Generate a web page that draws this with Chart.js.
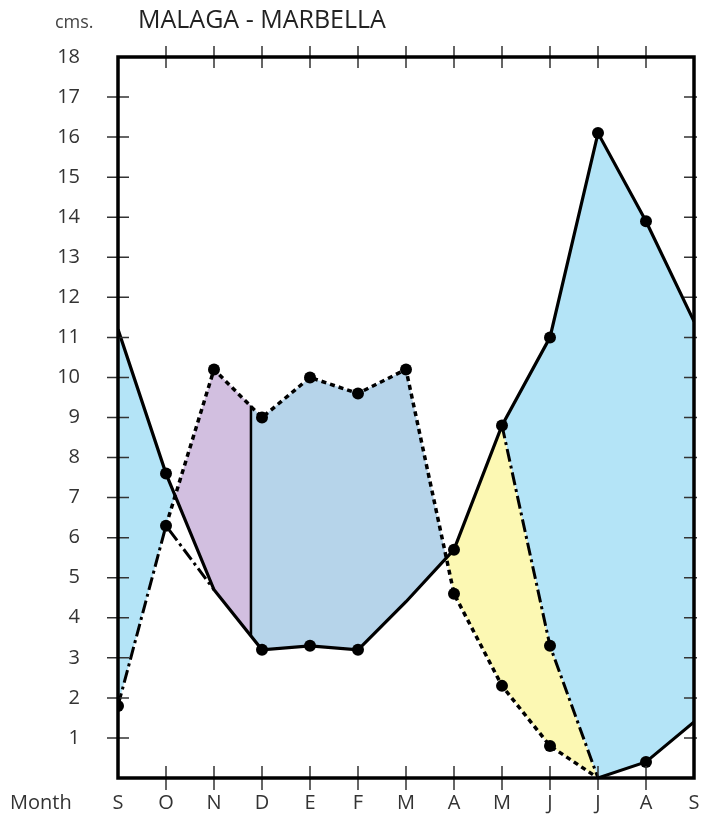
<!DOCTYPE html>
<html lang="en">
<head>
    <meta charset="UTF-8">
    <title>Malaga - Marbella</title>
    <script src="https://cdn.jsdelivr.net/npm/chart.js"></script>
    <style>
        body {
            margin: 0;
            padding: 0;
            background: #fff;
        }
        #wrap {
            width: 704px;
            height: 820px;
        }
    </style>
</head>
<body>
    <div id="wrap"><canvas id="balanceChart" width="704" height="820"></canvas></div>

    <script>
        // months from September to September
        const months = ['S', 'O', 'N', 'D', 'E', 'F', 'M', 'A', 'M', 'J', 'J', 'A', 'S'];
        // solid line
        const etp = [11.2, 7.6, 4.7, 3.2, 3.3, 3.2, 4.4, 5.7, 8.8, 11.0, 16.1, 13.9, 11.4];
        // dotted line
        const precip = [1.8, 6.3, 10.2, 9.0, 10.0, 9.6, 10.2, 4.6, 2.3, 0.8, 0.0, 0.4, 1.4];
        // dash-dot line
        const etr = [1.8, 6.3, 4.7, 3.2, 3.3, 3.2, 4.4, 5.7, 8.8, 3.3, 0.0, 0.4, 1.4];
        // vertical divider between the purple and blue areas
        const dividerX = 2.77;
        const dividerTop = 9.3;
        const dividerBottom = 3.55;
        // which points carry a dot
        const etpDots = [1, 3, 4, 5, 7, 8, 9, 10, 11];
        const precipDots = [1, 2, 3, 4, 5, 6, 7, 8, 9];
        const etrDots = [0, 9, 11];

        const yTicks = [1, 2, 3, 4, 5, 6, 7, 8, 9, 10, 11, 12, 13, 14, 15, 16, 17, 18];

        const LIGHT_BLUE = '#b4e4f7';
        const STEEL_BLUE = '#b6d4ea';
        const PURPLE = '#d2bfe0';
        const YELLOW = '#fcf8b3';

        function pts(arr, from, to) {
            const out = [];
            for (let i = from; i <= to; i++) out.push({ x: i, y: arr[i] });
            return out;
        }

        function dotRadius(list) {
            return ctx => list.includes(ctx.dataIndex) ? 6 : 0;
        }

        const DOTTED = [5, 4];
        const DASH_DOT = [13, 4, 3, 4];

        const fillBase = {
            borderWidth: 0,
            borderColor: 'transparent',
            pointRadius: 0
        };

        const frame = {
            id: 'frame',
            afterDraw(chart) {
                const { ctx, chartArea: a, scales } = chart;
                ctx.save();
                ctx.strokeStyle = '#333';
                ctx.lineWidth = 1.5;
                ctx.beginPath();
                for (let v = 1; v < 18; v++) {
                    const py = scales.y.getPixelForValue(v);
                    ctx.moveTo(a.left - 11, py); ctx.lineTo(a.left + 11, py);
                    ctx.moveTo(a.right - 10, py); ctx.lineTo(a.right + 3, py);
                }
                for (let i = 1; i < months.length - 1; i++) {
                    const px = scales.x.getPixelForValue(i);
                    ctx.moveTo(px, a.top - 11); ctx.lineTo(px, a.top + 11);
                    ctx.moveTo(px, a.bottom - 12); ctx.lineTo(px, a.bottom + 12);
                }
                ctx.stroke();
                ctx.strokeStyle = '#000';
                ctx.lineWidth = 3.5;
                ctx.strokeRect(a.left, a.top, a.right - a.left, a.bottom - a.top);

                ctx.fillStyle = '#222';
                ctx.textBaseline = 'middle';
                ctx.textAlign = 'left';
                ctx.font = '500 25px "Open Sans"';
                ctx.fillText('MALAGA - MARBELLA', 138, 21);
                ctx.fillStyle = '#444';
                ctx.font = '18px "Open Sans"';
                ctx.fillText('cms.', 55, 23);
                ctx.fillStyle = '#333';
                ctx.font = '20px "Open Sans"';
                ctx.fillText('Month', 10, 803);
                ctx.restore();
            }
        };

        new Chart(document.getElementById('balanceChart'), {
            type: 'line',
            data: {
                datasets: [
                    {
                        label: 'ETP',
                        data: pts(etp, 0, 12),
                        borderColor: '#000',
                        borderWidth: 3.2,
                        pointRadius: dotRadius(etpDots),
                        pointBackgroundColor: '#000',
                        pointBorderWidth: 0,
                        fill: false
                    },
                    {
                        label: 'P',
                        data: pts(precip, 0, 12),
                        borderColor: '#000',
                        borderWidth: 3.5,
                        pointRadius: dotRadius(precipDots),
                        pointBackgroundColor: '#000',
                        pointBorderWidth: 0,
                        fill: false,
                        segment: {
                            borderColor: c => (c.p0DataIndex >= 1 && c.p0DataIndex < 10) ? '#000' : 'transparent',
                            borderDash: () => DOTTED
                        }
                    },
                    {
                        label: 'ETR',
                        data: pts(etr, 0, 12),
                        borderColor: '#000',
                        borderWidth: 3,
                        pointRadius: dotRadius(etrDots),
                        pointBackgroundColor: '#000',
                        pointBorderWidth: 0,
                        fill: false,
                        segment: {
                            borderColor: c => (c.p0DataIndex < 2 || c.p0DataIndex >= 8) ? '#000' : 'transparent',
                            borderDash: c => c.p0DataIndex >= 10 ? [] : DASH_DOT
                        }
                    },
                    {
                        label: 'divider',
                        data: [{ x: dividerX, y: dividerTop }, { x: dividerX, y: dividerBottom }],
                        borderColor: '#000',
                        borderWidth: 2.5,
                        pointRadius: 0,
                        fill: false
                    },
                    // plain copy of ETR, used only as a fill boundary
                    Object.assign({
                        label: 'etrBase',
                        data: pts(etr, 0, 12),
                        fill: false
                    }, fillBase),
                    Object.assign({
                        label: 'recharge',
                        data: pts(precip, 0, 2).concat([{ x: dividerX, y: dividerTop }]),
                        fill: { target: 0, above: PURPLE, below: LIGHT_BLUE }
                    }, fillBase),
                    Object.assign({
                        label: 'surplus',
                        data: [{ x: dividerX, y: dividerTop }].concat(pts(precip, 3, 7)),
                        fill: { target: 0, above: STEEL_BLUE, below: YELLOW }
                    }, fillBase),
                    Object.assign({
                        label: 'use',
                        data: pts(precip, 7, 10),
                        fill: { target: 4, above: 'transparent', below: YELLOW }
                    }, fillBase),
                    Object.assign({
                        label: 'deficit',
                        data: pts(etp, 8, 12),
                        fill: { target: 4, above: LIGHT_BLUE, below: 'transparent' }
                    }, fillBase)
                ]
            },
            options: {
                responsive: false,
                animation: false,
                events: [],
                layout: { padding: { top: 57, right: 10, left: 0, bottom: 0 } },
                plugins: {
                    legend: { display: false },
                    tooltip: { enabled: false },
                    filler: { drawTime: 'beforeDatasetsDraw' }
                },
                scales: {
                    x: {
                        type: 'linear',
                        min: 0,
                        max: 12,
                        grid: { display: false, drawTicks: false },
                        border: { display: false },
                        afterFit: s => { s.height = 42; s.paddingLeft = 0; s.paddingRight = 0; },
                        afterBuildTicks: s => { s.ticks = months.map((m, i) => ({ value: i })); },
                        ticks: {
                            autoSkip: false,
                            maxRotation: 0,
                            padding: 13,
                            color: '#333',
                            font: { family: 'Open Sans', size: 20 },
                            callback: v => months[v]
                        }
                    },
                    y: {
                        min: 0,
                        max: 18,
                        grid: { display: false, drawTicks: false },
                        border: { display: false },
                        afterFit: s => { s.width = 118; s.paddingTop = 0; s.paddingBottom = 0; },
                        afterBuildTicks: s => { s.ticks = yTicks.map(v => ({ value: v })); },
                        ticks: {
                            padding: 38,
                            color: '#333',
                            font: { family: 'Open Sans', size: 20 }
                        }
                    }
                }
            },
            plugins: [frame]
        });
    </script>
</body>
</html>
